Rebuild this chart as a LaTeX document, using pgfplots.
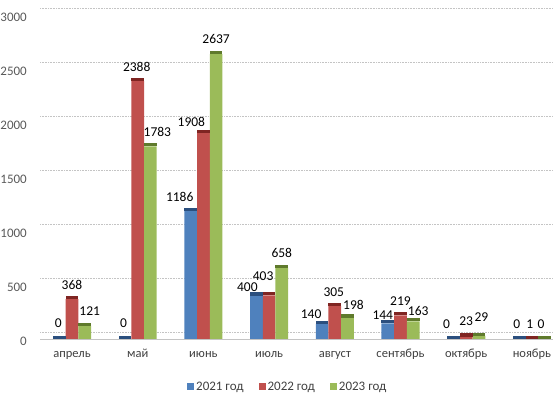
\documentclass[border=0pt]{standalone}
\usepackage{pgfplots}
\pgfplotsset{compat=1.18}
\usepackage{pgfplotstable}
\usepackage{fontspec}
\setmainfont{Carlito}
\definecolor{cA}{HTML}{4F81BD}
\definecolor{cAd}{HTML}{2B4F7E}
\definecolor{cB}{HTML}{C0504D}
\definecolor{cBd}{HTML}{7F2522}
\definecolor{cC}{HTML}{9BBB59}
\definecolor{cCd}{HTML}{5F7A2C}
\definecolor{tickc}{HTML}{595959}
\definecolor{gridc}{HTML}{C4C4C4}
\pgfdeclareplotmark{topL}{\pgfpathrectangle{\pgfpoint{-19.05pt}{0pt}}{\pgfpoint{12.7pt}{3.3pt}}\pgfusepathqfill}
\pgfdeclareplotmark{topM}{\pgfpathrectangle{\pgfpoint{-6.35pt}{0pt}}{\pgfpoint{12.7pt}{3.3pt}}\pgfusepathqfill}
\pgfdeclareplotmark{topR}{\pgfpathrectangle{\pgfpoint{6.35pt}{0pt}}{\pgfpoint{12.7pt}{3.3pt}}\pgfusepathqfill}
% dx: label offset from category centre (pt); up: label centre above bar top (pt)
\pgfplotstableread{
x v dx up
0 0 -13.7 16
1 0 -14.2 16
2 1186 -23.7 14
3 400 -21.7 9
4 140 -23.7 10
5 144 -17.7 8
6 0 -19.7 15
7 0 -15.2 15
}\tA
\pgfplotstableread{
x v dx up
0 368 0 14
1 2388 -1 14.3
2 1908 -12 11
3 403 -6 19
4 305 -1 14
5 219 0 14.6
6 23 0 15
7 1 -2 15
}\tB
\pgfplotstableread{
x v dx up
0 121 17.7 15
1 1783 19.7 14.7
2 2637 12.7 15
3 658 12.7 15
4 198 18.7 12.6
5 163 17.7 10.7
6 29 15.2 19
7 0 9.2 15
}\tC
\begin{document}
\begin{tikzpicture}
\path[use as bounding box] (0,0) rectangle (555pt,403pt);
\begin{axis}[
  at={(40pt,64pt)}, anchor=south west,
  scale only axis, width=513pt, height=324pt,
  xmin=-0.487, xmax=7.321, ymin=0, ymax=3000,
  axis x line*=bottom,
  axis y line*=left,
  x axis line style={draw=gridc, line width=0.8pt, -},
  y axis line style={draw=none, -},
  xtick={0,...,7},
  xticklabels={апрель,май,июнь,июль,август,сентябрь,октябрь,ноябрь},
  xtick style={draw=none},
  xticklabel style={anchor=base, yshift=-19pt, font=\fontsize{12.5}{14}\selectfont, text=black!75},
  ytick={0,500,...,3000},
  ytick style={draw=none},
  yticklabel style={anchor=east, inner sep=0pt, xshift=-13pt, yshift=-2.5pt, font=\fontsize{13}{15}\selectfont, text=tickc},
  /pgf/number format/assume math mode=true,
  /pgf/number format/1000 sep={},
  scaled y ticks=false,
  ymajorgrids,
  grid style={draw=gridc, line width=0.9pt, dash pattern=on 1pt off 0.6pt, yshift=7pt},
  clip=false,
  legend style={at={(rel axis cs:0.483,-0.148)}, anchor=center, draw=none, fill=none,
    legend columns=3, font=\fontsize{13}{15}\selectfont, text=black!75,
    /tikz/every even column/.append style={column sep=13pt}},
  legend image code/.code={\fill[#1] (0pt,-3.3pt) rectangle (7pt,3.7pt);},
  legend cell align=left,
  nodes near coords style={font=\fontsize{13.5}{15}\selectfont, text=black, anchor=center},
]
\addplot[ybar, bar width=12.7pt, bar shift=-12.7pt, fill=cA, draw=none,
  nodes near coords, point meta=explicit symbolic,
  visualization depends on={\thisrow{dx} \as \dx},
  visualization depends on={\thisrow{up} \as \up},
  every node near coord/.append style={xshift=\dx pt, yshift=\up pt}]
  table[x=x, y=v, meta=v] {\tA};
\addlegendentry{2021 год}
\addplot[ybar, bar width=12.7pt, bar shift=0pt, fill=cB, draw=none,
  nodes near coords, point meta=explicit symbolic,
  visualization depends on={\thisrow{dx} \as \dx},
  visualization depends on={\thisrow{up} \as \up},
  every node near coord/.append style={xshift=\dx pt, yshift=\up pt}]
  table[x=x, y=v, meta=v] {\tB};
\addlegendentry{2022 год}
\addplot[ybar, bar width=12.7pt, bar shift=12.7pt, fill=cC, draw=none,
  nodes near coords, point meta=explicit symbolic,
  visualization depends on={\thisrow{dx} \as \dx},
  visualization depends on={\thisrow{up} \as \up},
  every node near coord/.append style={xshift=\dx pt, yshift=\up pt}]
  table[x=x, y=v, meta=v] {\tC};
\addlegendentry{2023 год}
\addplot[only marks, mark=topL, color=cAd, forget plot] table[x=x, y=v] {\tA};
\addplot[only marks, mark=topM, color=cBd, forget plot] table[x=x, y=v] {\tB};
\addplot[only marks, mark=topR, color=cCd, forget plot] table[x=x, y=v] {\tC};
\end{axis}
\end{tikzpicture}
\end{document}
